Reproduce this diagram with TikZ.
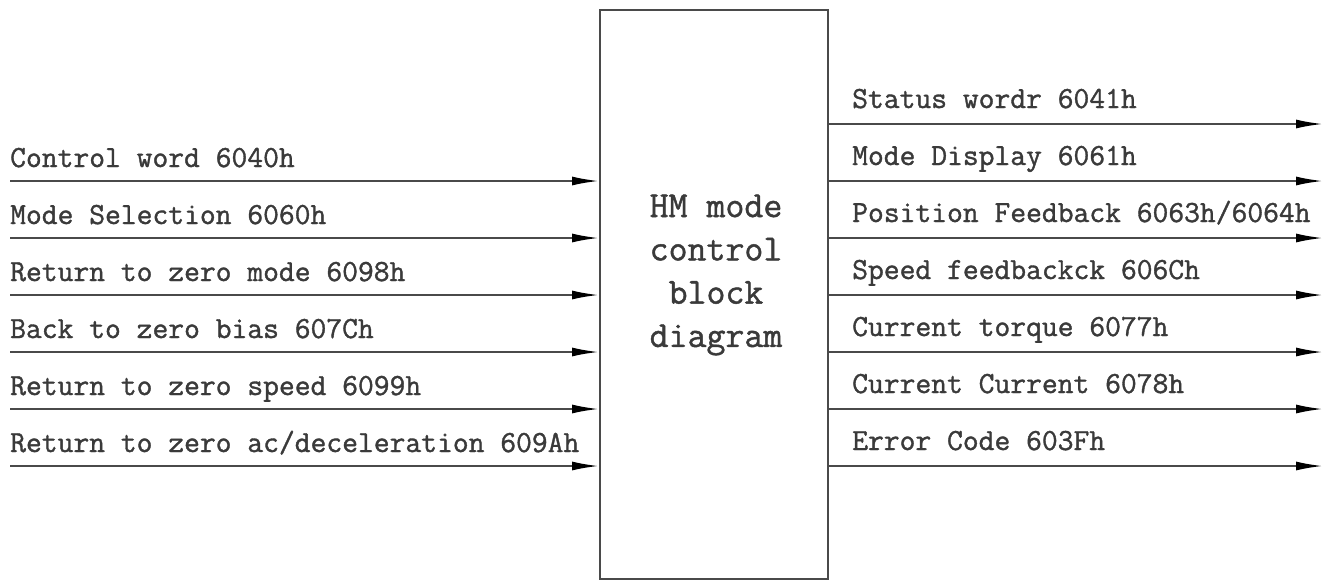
\documentclass[tikz,border=0pt]{standalone}
\usepackage{fontspec}
\newfontfamily\lblfont{Latin Modern Mono}[FakeBold=1.2]
\usetikzlibrary{arrows.meta}
\definecolor{ink}{HTML}{3A3A3A}
\definecolor{wire}{HTML}{4A4A4A}
\tikzset{
  lbl/.style={anchor=base west, inner sep=0pt, text=ink, font=\fontsize{30.7}{36}\selectfont\lblfont},
  sig/.style={draw=wire, line width=2pt, -{Latex[length=27pt,width=9pt,color=black]}},
  blk/.style={draw=wire, line width=2pt, minimum width=228pt, minimum height=569pt, inner sep=0pt},
  ttl/.style={align=center, text=ink, inner sep=0pt, font=\fontsize{36.8}{43.3}\selectfont\lblfont},
}
\begin{document}
\begin{tikzpicture}[x=1pt,y=-1pt]
\useasboundingbox (0,0) rectangle (1330,581);
\node[blk] (box) at (714,294.5) {};
\node[ttl] (title) at (716,275) {HM mode\\control\\block\\diagram};

% left inputs
\coordinate (l1) at (10,181);
\coordinate (l2) at (10,238);
\coordinate (l3) at (10,295);
\coordinate (l4) at (10,352);
\coordinate (l5) at (10,409);
\coordinate (l6) at (10,466);
\node[lbl] (tl1) at (10,167) {Control word 6040h};
\node[lbl] (tl2) at (10,224) {Mode Selection 6060h};
\node[lbl] (tl3) at (10,281) {Return to zero mode 6098h};
\node[lbl] (tl4) at (10,338) {Back to zero bias 607Ch};
\node[lbl] (tl5) at (10,395) {Return to zero speed 6099h};
\node[lbl] (tl6) at (10,452) {Return to zero ac/deceleration 609Ah};
\foreach \i in {1,...,6}{\draw[sig] (l\i) -- (box.west |- l\i);}

% right outputs
\coordinate (r1) at (1323,124);
\coordinate (r2) at (1323,181);
\coordinate (r3) at (1323,238);
\coordinate (r4) at (1323,295);
\coordinate (r5) at (1323,352);
\coordinate (r6) at (1323,409);
\coordinate (r7) at (1323,466);
\node[lbl] (tr1) at (852,108) {Status wordr 6041h};
\node[lbl] (tr2) at (852,165) {Mode Display 6061h};
\node[lbl] (tr3) at (852,222) {Position Feedback 6063h/6064h};
\node[lbl] (tr4) at (852,279) {Speed feedbackck 606Ch};
\node[lbl] (tr5) at (852,336) {Current torque 6077h};
\node[lbl] (tr6) at (852,393) {Current Current 6078h};
\node[lbl] (tr7) at (852,450) {Error Code 603Fh};
\foreach \i in {1,...,7}{\draw[sig] (box.east |- r\i) -- (r\i);}
\end{tikzpicture}
\end{document}
